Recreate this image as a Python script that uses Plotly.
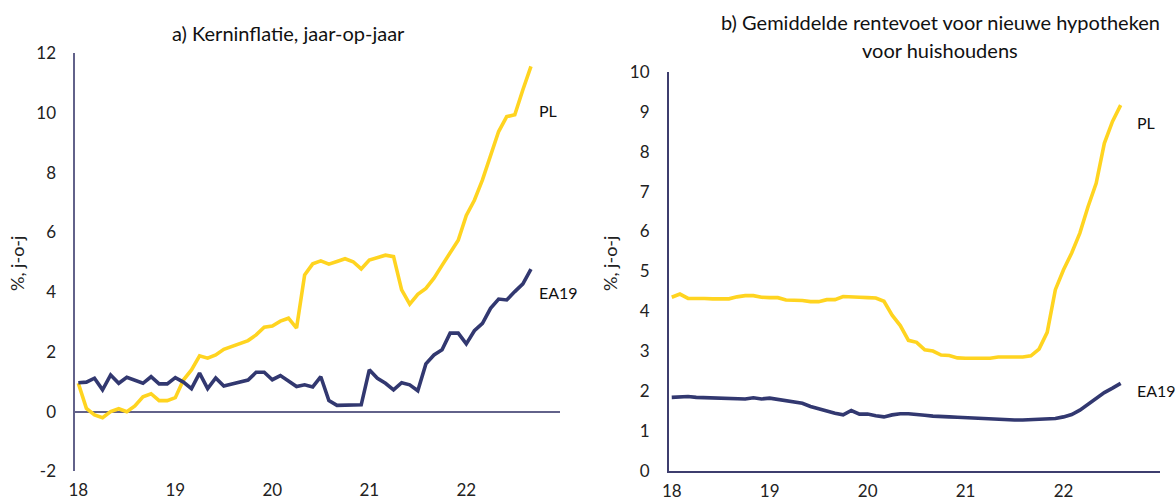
import plotly.graph_objects as go

# Monthly observations, January 2018 onwards
core_start = 2018
ea19_core = [0.97, 0.99, 1.12, 0.73, 1.23, 0.95, 1.15, 1.04, 0.95, 1.17, 0.93, 0.93,
             1.14, 0.99, 0.77, 1.29, 0.77, 1.13, 0.86, 0.93, 0.99, 1.06, 1.32, 1.32,
             1.07, 1.21, 1.03, 0.84, 0.90, 0.83, 1.17, 0.37, 0.21, 0.22, 0.22, 0.23,
             1.40, 1.12, 0.95, 0.73, 0.97, 0.90, 0.70, 1.60, 1.90, 2.07, 2.63, 2.63,
             2.27, 2.71, 2.96, 3.46, 3.77, 3.74, 4.02, 4.28, 4.77]
pl_core = [0.95, 0.11, -0.11, -0.20, 0.00, 0.10, 0.00, 0.19, 0.50, 0.60, 0.37, 0.37,
           0.47, 1.06, 1.40, 1.87, 1.79, 1.90, 2.09, 2.18, 2.26, 2.38, 2.57, 2.83,
           2.87, 3.03, 3.13, 2.80, 4.58, 4.95, 5.05, 4.94, 5.03, 5.12, 5.02, 4.78,
           5.08, 5.17, 5.24, 5.19, 4.08, 3.60, 3.93, 4.13, 4.47, 4.90, 5.34, 5.74,
           6.57, 7.08, 7.76, 8.54, 9.38, 9.88, 9.94, 10.78, 11.56]

ea19_mortgage = [1.84, 1.86, 1.86, 1.84, 1.83, 1.82, 1.82, 1.81, 1.79, 1.80, 1.83, 1.80,
                 1.82, 1.79, 1.75, 1.72, 1.69, 1.61, 1.55, 1.50, 1.44, 1.40, 1.51, 1.42,
                 1.42, 1.38, 1.35, 1.40, 1.43, 1.43, 1.42, 1.39, 1.37, 1.35, 1.35, 1.34,
                 1.33, 1.31, 1.29, 1.28, 1.27, 1.27, 1.27, 1.27, 1.28, 1.28, 1.29, 1.31,
                 1.35, 1.41, 1.52, 1.66, 1.81, 1.96, 2.07, 2.19]
pl_mortgage = [4.35, 4.43, 4.32, 4.33, 4.32, 4.31, 4.31, 4.31, 4.36, 4.39, 4.39, 4.35,
               4.34, 4.34, 4.28, 4.28, 4.27, 4.24, 4.24, 4.29, 4.29, 4.37, 4.37, 4.35,
               4.34, 4.33, 4.25, 3.90, 3.64, 3.27, 3.22, 3.03, 3.00, 2.90, 2.89, 2.83,
               2.82, 2.82, 2.82, 2.82, 2.85, 2.86, 2.85, 2.85, 2.88, 3.05, 3.47, 4.54,
               5.04, 5.46, 5.96, 6.62, 7.21, 8.21, 8.76, 9.17]

year_ticks = [2018, 2019, 2020, 2021, 2022]
year_labels = ["18", "19", "20", "21", "22"]
core_ticks = [-2, 0, 2, 4, 6, 8, 10, 12]
core_labels = ["-2", "0", "2", "4", "6", "8", "10", "12"]


def months(n):
    return [core_start + i / 12 for i in range(n)]


YELLOW = "#FFD420"
NAVY = "#323870"
FONT = "Lato"
W, H = 1176, 502

fig = go.Figure()

fig.add_trace(go.Scatter(x=months(len(pl_core)), y=pl_core, mode="lines",
                         line=dict(color=YELLOW, width=3.6), xaxis="x", yaxis="y"))
fig.add_trace(go.Scatter(x=months(len(ea19_core)), y=ea19_core, mode="lines",
                         line=dict(color=NAVY, width=3.6), xaxis="x", yaxis="y"))
fig.add_trace(go.Scatter(x=months(len(pl_mortgage)), y=pl_mortgage, mode="lines",
                         line=dict(color=YELLOW, width=3.6), xaxis="x2", yaxis="y2"))
fig.add_trace(go.Scatter(x=months(len(ea19_mortgage)), y=ea19_mortgage, mode="lines",
                         line=dict(color=NAVY, width=3.6), xaxis="x2", yaxis="y2"))

tick_font = dict(family=FONT, size=17, color="#222222")


def px_x(p):
    return p / W


def px_y(p):
    return 1 - p / H


common = dict(showgrid=False, ticks="", automargin=False, tickfont=tick_font)

fig.update_layout(
    width=W, height=H,
    margin=dict(l=0, r=0, t=0, b=0, autoexpand=False),
    paper_bgcolor="white", plot_bgcolor="white",
    showlegend=False,
    font=dict(family=FONT, color="#222222"),
    xaxis=dict(domain=[px_x(75.4), px_x(560)], range=[2017.97, 2022.966],
               tickvals=year_ticks, ticktext=year_labels,
               zeroline=False, showline=False, ticklabelstandoff=7, anchor="y", **common),
    yaxis=dict(domain=[px_y(471.4), px_y(53.3)], range=[-2, 12],
               tickvals=core_ticks, ticktext=core_labels,
               showline=True, linecolor="#62628A", linewidth=2, zeroline=True,
               zerolinecolor="#62628A", zerolinewidth=2,
               ticklabelstandoff=14, anchor="x", **common),
    xaxis2=dict(domain=[px_x(669), px_x(1160)], range=[2017.972, 2022.985],
                tickvals=year_ticks, ticktext=year_labels,
                zeroline=False, showline=True, linecolor="#3E3E6E", linewidth=2,
                ticklabelstandoff=4, anchor="y2", **common),
    yaxis2=dict(domain=[px_y(470.7), px_y(72)], range=[0, 10], dtick=1,
                showline=True, linecolor="#3E3E6E", linewidth=2, zeroline=False,
                ticklabelstandoff=14, anchor="x2", **common),
)

title_font = dict(family=FONT, size=20, color="#111111")
label_font = dict(family=FONT, size=16, color="#111111")
titles = [
    dict(text="a) Kerninflatie, jaar-op-jaar", x=px_x(288), y=px_y(33)),
    dict(text="b) Gemiddelde rentevoet voor nieuwe hypotheken", x=px_x(940), y=px_y(22)),
    dict(text="voor huishoudens", x=px_x(940), y=px_y(50)),
]
for t in titles:
    fig.add_annotation(xref="paper", yref="paper", xanchor="center", yanchor="middle",
                       showarrow=False, font=title_font, **t)

series_labels = [
    dict(text="PL", x=px_x(537), y=px_y(110)),
    dict(text="EA19", x=px_x(537), y=px_y(292)),
    dict(text="PL", x=px_x(1135), y=px_y(122)),
    dict(text="EA19", x=px_x(1135), y=px_y(390)),
]
for s in series_labels:
    fig.add_annotation(xref="paper", yref="paper", xanchor="left", yanchor="middle",
                       showarrow=False, font=label_font, **s)

for xp in (17, 610):
    fig.add_annotation(text="%, j-o-j", xref="paper", yref="paper", x=px_x(xp),
                       y=px_y(264), xanchor="center", yanchor="middle", textangle=-90,
                       showarrow=False, font=dict(family=FONT, size=18, color="#222222"))

fig.write_html("out.html")
